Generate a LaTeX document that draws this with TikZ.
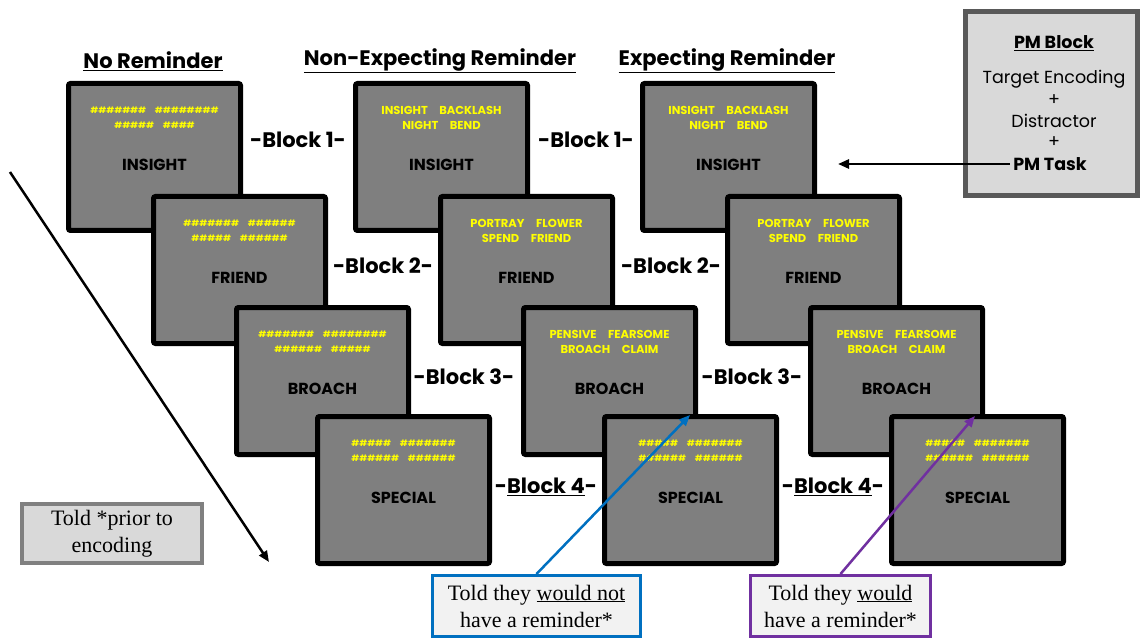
\documentclass[tikz,border=0pt]{standalone}
\usepackage{fontspec}
\setmainfont{Liberation Serif}
\setsansfont{Poppins}
\usetikzlibrary{arrows.meta}

\definecolor{screengray}{HTML}{7F7F7F}
\definecolor{cueyellow}{HTML}{FFFF00}
\definecolor{panelgray}{HTML}{D9D9D9}
\definecolor{notefill}{HTML}{F2F2F2}
\definecolor{pmedge}{HTML}{595959}
\definecolor{noteblue}{HTML}{0070C0}
\definecolor{notepurple}{HTML}{7030A0}

\tikzset{
  screen/.style={draw=black, line width=5pt, fill=screengray, rounded corners=2pt,
    minimum width=172pt, minimum height=147pt, inner sep=0pt},
  cue/.style={text=cueyellow, font=\sffamily\bfseries\fontsize{11.5}{13}\selectfont},
  hashcue/.style={text=cueyellow, font=\sffamily\bfseries\fontsize{8.8}{11}\selectfont},
  probe/.style={font=\sffamily\bfseries\fontsize{16}{18}\selectfont},
  heading/.style={font=\sffamily\bfseries\fontsize{21}{24}\selectfont},
  blocklabel/.style={font=\sffamily\bfseries\fontsize{21}{24}\selectfont},
  note/.style={align=center, font=\fontsize{22}{27}\selectfont, inner sep=0pt},
  pmtext/.style={font=\sffamily\fontsize{17.5}{20}\selectfont},
  pmbold/.style={font=\sffamily\bfseries\fontsize{17.5}{20}\selectfont},
  pointer/.style={line width=2.5pt, -{Triangle[length=11pt,width=9pt]}},
}

\begin{document}
\begin{tikzpicture}[x=1pt, y=-1pt]
  \useasboundingbox (0,0) rectangle (1141,639);

  % column headings
  \node[heading] (headNo) at (153,61) {\underline{No Reminder}};
  \node[heading] (headNonExp) at (440,61) {\underline{Non-Expecting Reminder}};
  \node[heading] (headExp) at (727,61) {\underline{Expecting Reminder}};

  % no reminder screens
  \foreach \n/\x/\y/\s/\la/\lb/\w in {
    1/154.5/157/hashcue/{\#\#\#\#\#\#\#\quad\#\#\#\#\#\#\#\#}/{\#\#\#\#\#\quad\#\#\#\#}/INSIGHT,
    2/239.5/270/hashcue/{\#\#\#\#\#\#\#\quad\#\#\#\#\#\#}/{\#\#\#\#\#\quad\#\#\#\#\#\#}/FRIEND,
    3/322.5/381/hashcue/{\#\#\#\#\#\#\#\quad\#\#\#\#\#\#\#\#}/{\#\#\#\#\#\#\quad\#\#\#\#\#}/BROACH,
    4/403.5/490/hashcue/{\#\#\#\#\#\quad\#\#\#\#\#\#\#}/{\#\#\#\#\#\#\quad\#\#\#\#\#\#}/SPECIAL} {
    \node[screen] (noRem\n) at (\x,\y) {};
    \node[\s] (noRemCueA\n) at (\x,\y-47) {\la};
    \node[\s] (noRemCueB\n) at (\x,\y-32) {\lb};
    \node[probe] (noRemWord\n) at (\x,\y+8) {\w};
  }

  % non-expecting reminder screens
  \foreach \n/\x/\y/\s/\la/\lb/\w in {
    1/441.5/157/cue/{INSIGHT\quad BACKLASH}/{NIGHT\quad BEND}/INSIGHT,
    2/526.5/270/cue/{PORTRAY\quad FLOWER}/{SPEND\quad FRIEND}/FRIEND,
    3/609.5/381/cue/{PENSIVE\quad FEARSOME}/{BROACH\quad CLAIM}/BROACH,
    4/690.5/490/hashcue/{\#\#\#\#\#\quad\#\#\#\#\#\#\#}/{\#\#\#\#\#\#\quad\#\#\#\#\#\#}/SPECIAL} {
    \node[screen] (nonExp\n) at (\x,\y) {};
    \node[\s] (nonExpCueA\n) at (\x,\y-47) {\la};
    \node[\s] (nonExpCueB\n) at (\x,\y-32) {\lb};
    \node[probe] (nonExpWord\n) at (\x,\y+8) {\w};
  }

  % expecting reminder screens
  \foreach \n/\x/\y/\s/\la/\lb/\w in {
    1/728.5/157/cue/{INSIGHT\quad BACKLASH}/{NIGHT\quad BEND}/INSIGHT,
    2/813.5/270/cue/{PORTRAY\quad FLOWER}/{SPEND\quad FRIEND}/FRIEND,
    3/896.5/381/cue/{PENSIVE\quad FEARSOME}/{BROACH\quad CLAIM}/BROACH,
    4/977.5/490/hashcue/{\#\#\#\#\#\quad\#\#\#\#\#\#\#}/{\#\#\#\#\#\#\quad\#\#\#\#\#\#}/SPECIAL} {
    \node[screen] (expRem\n) at (\x,\y) {};
    \node[\s] (expRemCueA\n) at (\x,\y-47) {\la};
    \node[\s] (expRemCueB\n) at (\x,\y-32) {\lb};
    \node[probe] (expRemWord\n) at (\x,\y+8) {\w};
  }

  % block labels
  \node[blocklabel] (blockA1) at (298,140) {-Block 1-};
  \node[blocklabel] (blockA2) at (383,266) {-Block 2-};
  \node[blocklabel] (blockA3) at (464,377) {-Block 3-};
  \node[blocklabel] (blockA4) at (546,487) {-\underline{Block 4}-};
  \node[blocklabel] (blockB1) at (586,140) {-Block 1-};
  \node[blocklabel] (blockB2) at (671,266) {-Block 2-};
  \node[blocklabel] (blockB3) at (752,377) {-Block 3-};
  \node[blocklabel] (blockB4) at (833,487) {-\underline{Block 4}-};

  % PM block panel
  \node[draw=pmedge, line width=5pt, fill=panelgray, minimum width=172pt, minimum height=184pt] (pmBox) at (1051.5,103.5) {};
  \node[pmbold] (pmHead) at (1054,43) {\underline{PM Block}};
  \node[pmtext] (pmEnc) at (1054,79) {Target Encoding};
  \node[pmtext] (pmPlusA) at (1054,100) {+};
  \node[pmtext] (pmDist) at (1054,121) {Distractor};
  \node[pmtext] (pmPlusB) at (1054,142) {+};
  \node[pmbold] (pmTask) at (1050,164) {PM Task};
  \coordinate (pmTip) at (838,164);
  \draw[pointer] (pmTask.west) -- (pmTip);

  % time arrow and notes
  \coordinate (timeStart) at (10,172);
  \coordinate (timeEnd) at (269,562);
  \draw[pointer] (timeStart) -- (timeEnd);

  \node[note, draw=gray, line width=4pt, fill=panelgray, minimum width=180pt, minimum height=59pt] (notePrior) at (112,533.5) {Told *prior to\\encoding};
  \node[note, draw=noteblue, line width=3pt, fill=notefill, minimum width=208pt, minimum height=61pt] (noteBlue) at (536.5,606) {Told they \underline{would not}\\have a reminder*};
  \node[note, draw=notepurple, line width=3pt, fill=notefill, minimum width=180pt, minimum height=61pt] (notePurple) at (840.5,606) {Told they \underline{would}\\have a reminder*};

  \coordinate (blueTip) at (690,415);
  \coordinate (purpleTip) at (975,416);
  \draw[pointer, noteblue] (noteBlue.north) -- (blueTip);
  \draw[pointer, notepurple] (notePurple.north) -- (purpleTip);
\end{tikzpicture}
\end{document}
